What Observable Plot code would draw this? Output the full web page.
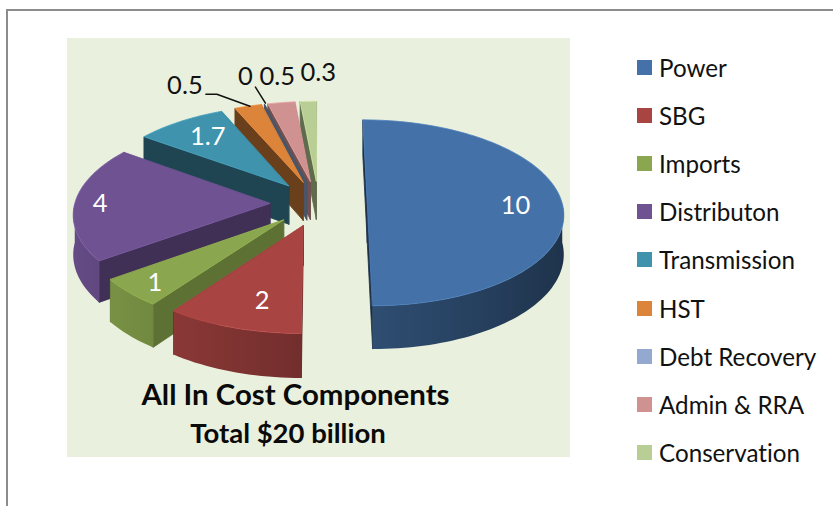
<!DOCTYPE html>
<html>
<head>
<meta charset="utf-8">
<script src="https://cdn.jsdelivr.net/npm/d3@7"></script>
<script src="https://cdn.jsdelivr.net/npm/@observablehq/plot@0.6"></script>
<style>
  html, body { margin: 0; padding: 0; background: #fff; }
  #page { position: relative; width: 833px; height: 506px; overflow: hidden; font-family: Lato, sans-serif; color: #111; font-variant-ligatures: none; }
  #rule-top { position: absolute; left: 6px; top: 9px; width: 827px; height: 2px; background: #8c8c8c; }
  #rule-left { position: absolute; left: 6px; top: 9px; width: 2px; height: 497px; background: #8c8c8c; }
  #chart { position: absolute; left: 67px; top: 38px; }
  #chart text { font-variant-ligatures: none; }
  .key { position: absolute; left: 637px; height: 24px; display: flex; align-items: center; font-size: 24.2px; white-space: nowrap; }
  .key i { display: block; width: 15px; height: 15px; margin-right: 7px; }
</style>
</head>
<body>
<div id="page">
  <div id="rule-top"></div>
  <div id="rule-left"></div>
  <div id="chart"></div>
</div>
<script>
// Cost components, $ billion
const components = ["Power", "SBG", "Imports", "Distributon", "Transmission", "HST", "Debt Recovery", "Admin & RRA", "Conservation"];
const costs = [10, 2, 1, 4, 1.7, 0.5, 0, 0.5, 0.3];
const faceColors = ["#4472a8", "#a84442", "#8aa64e", "#6f5292", "#3f93ad", "#dc843a", "#94a9d0", "#d09291", "#b9ce95"];
const wallShade = [0.42, 0.55, 0.68, 0.58, 0.47, 0.48, 0.5, 0.55, 0.52];
// Slices are painted from the back of the pie to the front
const paintOrder = ["Conservation", "Admin & RRA", "Debt Recovery", "HST", "Transmission", "Power", "Distributon", "Imports", "SBG"];

// Label placement: fraction of the radius along the slice's middle, then a pixel nudge
const labelPlacement = {
  "Power": {f: 0.76, dx: 0, dy: 2, fill: "#fff"},
  "SBG": {f: 0.72, dx: 8, dy: 4, fill: "#fff"},
  "Imports": {f: 0.72, dx: -20, dy: 12, fill: "#fff"},
  "Distributon": {f: 0.87, dx: 0, dy: 0, fill: "#fff"},
  "Transmission": {f: 0.68, dx: -5, dy: -4, fill: "#fff"},
  "HST": {f: 1, dx: -63, dy: -20, fill: "#111"},
  "Debt Recovery": {f: 1, dx: -19, dy: -27, fill: "#111"},
  "Admin & RRA": {f: 1, dx: -4, dy: -26, fill: "#111"},
  "Conservation": {f: 1, dx: 10, dy: -29, fill: "#111"}
};
// Callout lines for the two smallest slices, as pixel offsets from the rim
const leaderBends = {
  "HST": [[-42, -12], [-31, -12], [2, 0]],
  "Debt Recovery": [[-9, -17], [1, -1]]
};

// Pie geometry: radii in pixels, explosion, perspective and extrusion
const radiusX = 195, radiusY = 92;
const explode = 0.25, perspective = 0.10, depth = 39 / radiusY;
const panelW = 503, panelH = 419, centerX = 251, centerY = 165;

// Project a point of the pie's plane (units of radius); z lowers it onto the bottom face
function project(u, v, z = 0) {
  const s = 1 / (1 + perspective * v);
  return {x: u * s, y: (v - z) * s};
}

const arcs = d3.pie().sort(null).value(d => d)(costs);
const slices = components.map((name, i) => {
  const a0 = arcs[i].startAngle, a1 = arcs[i].endAngle, mid = (a0 + a1) / 2;
  return {
    name, index: i, value: costs[i], color: faceColors[i], wall: wallShade[i], a0, a1, mid,
    ax: explode * Math.sin(mid), ay: explode * Math.cos(mid)
  };
});
const rim = (s, a, f = 1) => [s.ax + f * Math.sin(a), s.ay + f * Math.cos(a)];
const shade = (color, k) => {
  const c = d3.rgb(color);
  return d3.rgb(c.r * k, c.g * k, c.b * k).formatHex();
};
const rimTone = (color, a) => shade(color, 0.68 - 0.24 * Math.sin(a));

// Polygons for every slice: two radial walls, the front part of the rim, the top face
const polygons = [];
let polyId = 0;
function addPolygon(points, fill, stroke) {
  const id = polyId++;
  for (const p of points) polygons.push({id, x: p.x, y: p.y, fill, stroke});
}

// Horizontal shading of each visible rim, defined once per slice
const gradients = [];
const byName = new Map(slices.map(s => [s.name, s]));
for (const name of paintOrder) {
  const s = byName.get(name);
  const wallColor = shade(s.color, s.wall);
  for (const a of [s.a1, s.a0]) {
    const [u, v] = rim(s, a);
    addPolygon([
      project(s.ax, s.ay), project(u, v), project(u, v, depth), project(s.ax, s.ay, depth)
    ], wallColor, wallColor);
  }
  const from = Math.max(s.a0, Math.PI / 2), to = Math.min(s.a1, 3 * Math.PI / 2);
  if (to > from) {
    const steps = Math.ceil((to - from) / 0.03);
    const angles = d3.range(steps + 1).map(k => from + (to - from) * k / steps);
    const upper = angles.map(a => project(...rim(s, a)));
    const lower = angles.map(a => project(...rim(s, a), depth)).reverse();
    const id = `rim-${s.index}`;
    const xs = upper.map(p => p.x), x0 = d3.min(xs), x1 = d3.max(xs);
    gradients.push({
      id,
      stops: angles.map((a, k) => ({offset: (xs[k] - x0) / (x1 - x0), color: rimTone(s.color, a)})).reverse()
    });
    addPolygon([...upper, ...lower], `url(#${id})`, "none");
  }
  if (s.value > 0) {
    const steps = Math.ceil((s.a1 - s.a0) / 0.03);
    const top = [project(s.ax, s.ay)];
    for (let k = 0; k <= steps; ++k) top.push(project(...rim(s, s.a0 + (s.a1 - s.a0) * k / steps)));
    addPolygon(top, s.color, shade(s.color, 1.12));
  }
}

// Gradient definitions placed inside the chart's own svg
function rimGradients() {
  const defs = d3.create("svg:defs");
  const grads = defs.selectAll("linearGradient").data(gradients).join("linearGradient")
    .attr("id", d => d.id).attr("x1", 0).attr("x2", 1).attr("y1", 0).attr("y2", 0);
  grads.selectAll("stop").data(d => d.stops).join("stop")
    .attr("offset", d => d.offset).attr("stop-color", d => d.color);
  return defs.node();
}

// Value labels
const px = n => n / radiusX, py = n => n / radiusY;
const labels = slices.map(s => {
  const p = labelPlacement[s.name];
  const q = project(...rim(s, s.mid, p.f));
  return {text: String(s.value), x: q.x + px(p.dx), y: q.y - py(p.dy), fill: p.fill};
});

// Callout lines
const leaders = [];
for (const [name, bends] of Object.entries(leaderBends)) {
  const s = byName.get(name);
  const q = project(...rim(s, s.mid));
  for (const [dx, dy] of bends) leaders.push({name, x: q.x + px(dx), y: q.y - py(dy)});
}

const plot = Plot.plot({
  width: panelW,
  height: panelH,
  margin: 0,
  style: {background: "#e9f0dd", fontFamily: "Lato, sans-serif"},
  x: {axis: null, domain: [-centerX / radiusX, (panelW - centerX) / radiusX]},
  y: {axis: null, domain: [-(panelH - centerY) / radiusY, centerY / radiusY]},
  color: {type: "identity"},
  marks: [
    rimGradients,
    Plot.line(polygons, {
      x: "x", y: "y", z: "id", fill: "fill", stroke: "stroke",
      strokeWidth: 0.8, curve: "linear-closed"
    }),
    Plot.line(leaders, {x: "x", y: "y", z: "name", stroke: "#111", strokeWidth: 1.5, curve: "linear"}),
    Plot.text(labels, {x: "x", y: "y", text: "text", fill: "fill", fontSize: 25.5}),
    Plot.text(["All In Cost Components"], {
      frameAnchor: "bottom", dx: -23.5, dy: -53, text: d => d, fontSize: 29.4, fontWeight: 700, fill: "#0a0a0a"
    }),
    Plot.text(["Total $20 billion"], {
      frameAnchor: "bottom", dx: -31, dy: -15, text: d => d, fontSize: 27.5, fontWeight: 700, fill: "#0a0a0a"
    })
  ]
});
document.getElementById("chart").appendChild(plot);

// Legend column beside the chart
const page = document.getElementById("page");
components.forEach((name, i) => {
  const row = document.createElement("div");
  row.className = "key";
  row.style.top = (55.5 + i * 48.1) + "px";
  const swatch = document.createElement("i");
  swatch.style.background = faceColors[i];
  row.appendChild(swatch);
  row.appendChild(document.createTextNode(name));
  page.appendChild(row);
});
</script>
</body>
</html>
